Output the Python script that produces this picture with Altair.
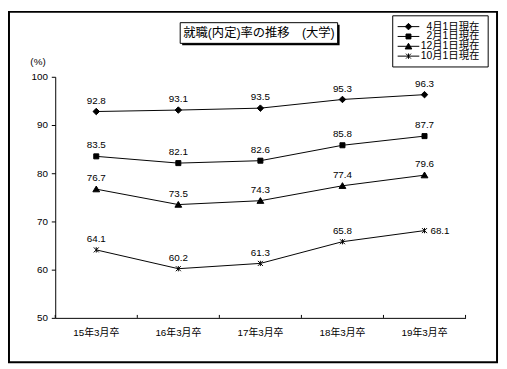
import altair as alt
import pandas as pd

years = ["15年3月卒", "16年3月卒", "17年3月卒", "18年3月卒", "19年3月卒"]
series = ["4月1日現在", "2月1日現在", "12月1日現在", "10月1日現在"]
apr1 = [92.8, 93.1, 93.5, 95.3, 96.3]
feb1 = [83.5, 82.1, 82.6, 85.8, 87.7]
dec1 = [76.7, 73.5, 74.3, 77.4, 79.6]
oct1 = [64.1, 60.2, 61.3, 65.8, 68.1]
chart_title = "就職(内定)率の推移　(大学)"
y_ticks = [50, 60, 70, 80, 90, 100]

rows = []
for s, vals in zip(series, [apr1, feb1, dec1, oct1]):
    for yr, v in zip(years, vals):
        rows.append({"year": yr, "series": s, "value": v})
df = pd.DataFrame(rows)
years_df = pd.DataFrame({"year": years})

FONT = "Liberation Sans, Noto Sans CJK JP, sans-serif"

plot_shapes = [
    "M0,-1.1L1.1,0L0,1.1L-1.1,0Z",
    "M-0.85,-0.85H0.85V0.85H-0.85Z",
    "M0,-1.05L1.15,0.9H-1.15Z",
    "M-0.85,-0.85L0.85,0.85M-0.85,0.85L0.85,-0.85M0,-0.9V0.9",
]
legend_shapes = [
    "M-2.2,0H2.2M0,-0.66L0.66,0L0,0.66L-0.66,0Z",
    "M-2.2,0H2.2M-0.5,-0.5H0.5V0.5H-0.5Z",
    "M-2.2,0H2.2M0,-0.62L0.68,0.54H-0.68Z",
    "M-2.2,0H2.2M-0.5,-0.5L0.5,0.5M-0.5,0.5L0.5,-0.5M0,-0.55V0.55",
]

xscale = alt.Scale(type="band", paddingInner=0, paddingOuter=0)
xaxis = alt.Axis(ticks=False, domainColor="black", labelPadding=10,
                 labelFontSize=10, labelFont=FONT, labelColor="black",
                 labelAngle=0, title=None, orient="bottom")


def xenc(**kw):
    return alt.X("year:N", sort=years, scale=xscale, axis=xaxis, **kw)


yaxis = alt.Axis(
    values=y_ticks, grid=False, tickSize=4, labelPadding=4, labelFontSize=10,
    labelFont=FONT, labelColor="black", domainColor="black", tickColor="black",
    title="(%)", titleAngle=0, titleX=-18, titleY=-16, titleAlign="center",
    titleBaseline="middle", titleFontSize=10, titleFontWeight="normal",
    titleFont=FONT, titleColor="black",
)
yenc = alt.Y("value:Q", scale=alt.Scale(domain=[50, 100]), axis=yaxis)

base = alt.Chart(df)

lines = base.mark_line(color="black", strokeWidth=1).encode(
    x=xenc(), y=yenc, detail="series:N",
)

point_layers = []
for s, shp in zip(series, plot_shapes):
    point_layers.append(
        base.mark_point(shape=shp, filled=True, fill="black", stroke="black",
                        strokeWidth=1, opacity=1, size=36)
        .encode(x=xenc(), y=yenc)
        .transform_filter(alt.datum.series == s)
    )

# small inward ticks at the category boundaries of the x axis
xticks_left = alt.Chart(years_df).mark_rule(color="black", strokeWidth=1).encode(
    x=xenc(bandPosition=0), y=alt.value(242), y2=alt.value(245)
)
xticks_end = alt.Chart(years_df).mark_rule(color="black", strokeWidth=1).encode(
    x=xenc(bandPosition=1), y=alt.value(242), y2=alt.value(245)
).transform_filter(alt.datum.year == years[-1])

special = "datum.series == '10月1日現在' && datum.year == '19年3月卒'"

labels = base.mark_text(dy=-11, fontSize=10, font=FONT, color="black",
                        baseline="middle").encode(
    x=xenc(), y=yenc, text=alt.Text("value:Q", format=".1f"),
).transform_filter("!(" + special + ")")

labels_right = base.mark_text(dx=6, fontSize=10, font=FONT, color="black",
                              align="left", baseline="middle").encode(
    x=xenc(), y=yenc, text=alt.Text("value:Q", format=".1f"),
).transform_filter(special)

one = alt.Chart(pd.DataFrame({"a": [0]}))

border = one.mark_rect(fillOpacity=0, stroke="black", strokeWidth=2).encode(
    x=alt.value(-47), x2=alt.value(449), y=alt.value(-66), y2=alt.value(290)
)
title_shadow = one.mark_rect(fill="black").encode(
    x=alt.value(129), x2=alt.value(289), y=alt.value(-53), y2=alt.value(-32)
)
title_box = one.mark_rect(fill="white", stroke="black", strokeWidth=1).encode(
    x=alt.value(127), x2=alt.value(287), y=alt.value(-55), y2=alt.value(-34)
)
title_text = one.mark_text(text=chart_title, fontSize=12.5, font=FONT,
                           color="black", align="center",
                           baseline="middle").encode(
    x=alt.value(207), y=alt.value(-44)
)

# legend box with one row per series
legend_box = one.mark_rect(fill="white", stroke="black", strokeWidth=1).encode(
    x=alt.value(343), x2=alt.value(440), y=alt.value(-62), y2=alt.value(-10)
)
legend_layers = [legend_box]
for i, (s, shp) in enumerate(zip(series, legend_shapes)):
    ly = -51 + 10 * i
    legend_layers.append(
        one.mark_point(shape=shp, filled=True, fill="black", stroke="black",
                       strokeWidth=1, opacity=1, size=100)
        .encode(x=alt.value(359), y=alt.value(ly))
    )
    legend_layers.append(
        one.mark_text(text=s, fontSize=10.5, font=FONT, color="black",
                      align="right", baseline="middle")
        .encode(x=alt.value(431), y=alt.value(ly))
    )

chart = alt.layer(
    border, title_shadow, title_box, title_text,
    lines, *point_layers, xticks_left, xticks_end,
    labels, labels_right, *legend_layers,
).properties(
    width=417, height=245,
    padding={"left": 48, "top": 67, "right": 34, "bottom": 47},
    autosize=alt.AutoSizeParams(type="none"),
    background="white",
).configure_view(stroke=None)

chart.save("out.html", embed_options={"renderer": "svg", "actions": False})
